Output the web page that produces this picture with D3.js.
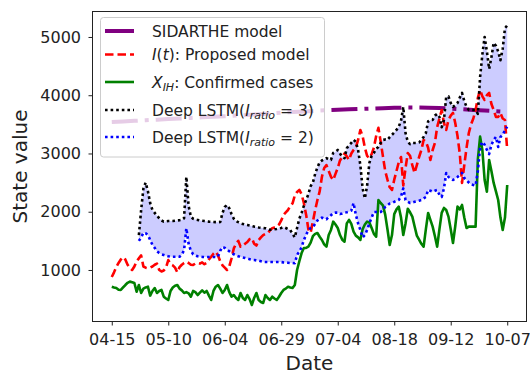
<!DOCTYPE html>
<html lang="en">
<head>
<meta charset="UTF-8">
<title>State value</title>
<script src="https://cdn.jsdelivr.net/npm/d3@7"></script>
<style>
  body { margin: 0; background: #fff; }
  svg { display: block; font-family: "DejaVu Sans", sans-serif; }
</style>
</head>
<body>
<svg id="chart" width="530" height="374"></svg>
<script>
// day index 0 = 04-15, one value per day
const tickDays = [0, 25, 50, 75, 100, 125, 150, 175];
const tickLabels = ["04-15", "05-10", "06-04", "06-29", "07-04", "08-18", "09-12", "10-07"];
const yTicks = [1000, 2000, 3000, 4000, 5000];

// X_IH: confirmed cases
const confirmed = [
  713, 700, 690, 660, 657, 700, 742, 780, 800, 790,
  777, 627, 742, 605, 680, 700, 713, 560, 640, 690,
  605, 640, 657, 542, 510, 485, 640, 700, 730, 742,
  680, 650, 605, 620, 600, 542, 640, 620, 570, 610,
  650, 610, 640, 560, 485, 640, 713, 742, 680, 605,
  657, 742, 620, 542, 570, 520, 485, 605, 520, 485,
  570, 500, 400, 520, 605, 485, 450, 433, 570, 520,
  485, 542, 510, 485, 540, 605, 657, 680, 713, 700,
  690, 742, 1000, 1150, 1290, 1378, 1380, 1400, 1470, 1580,
  1620, 1635, 1570, 1515, 1440, 1400, 1600, 1687, 1830, 1780,
  1721, 1600, 1520, 1486, 1800, 1859, 1790, 1658, 1590, 1560,
  1515, 1700, 1780, 1830, 1815, 1720, 1620, 1572, 2202, 2150,
  2110, 1950, 1700, 1429, 1600, 1960, 2040, 2087, 1900, 1600,
  1800, 2050, 1990, 1916, 1750, 1590, 1520, 1450, 1400, 1700,
  1979, 1859, 1744, 1580, 1400, 1700, 1980, 2065, 2030, 1916,
  1700, 1464, 1750, 2087, 2040, 2116, 1900, 1720, 1744, 1744,
  1744, 1744, 2900, 3289, 3060, 2545, 2344, 2889, 2700, 2494,
  2350, 2202, 1900, 1687, 1900, 2459
];

// I(t): proposed model
const proposed = [
  880, 960, 1050, 1120, 1180, 1220, 1180, 1090, 1040, 1000,
  1060, 1150, 1200, 1250, 1060, 1040, 1030, 1040, 1060, 1090,
  1110, 1000, 975, 990, 1040, 1170, 1100, 1080, 1040, 960,
  1050, 1090, 1120, 1140, 1120, 1090, 1086, 1110, 1120, 1110,
  1130, 1100, 1120, 1180, 1228, 1280, 1314, 1250, 1150, 1080,
  1040, 1000, 1060, 1200, 1370, 1450, 1500, 1400, 1420, 1450,
  1480, 1530, 1544, 1450, 1420, 1515, 1560, 1600, 1620, 1630,
  1680, 1716, 1730, 1744, 1780, 1850, 1944, 1990, 2030, 2100,
  2145, 2280, 2340, 2374, 2300, 2150, 1950, 1700, 1640, 1830,
  2030, 2200, 2350, 2600, 2750, 2800, 2700, 2600, 2545, 2650,
  2750, 2880, 2940, 3000, 2950, 2889, 3000, 3060, 3100, 3232,
  3404, 3300, 3100, 2960, 2920, 2990, 3100, 3300, 3440, 3200,
  2950, 2700, 2550, 2420, 2374, 2550, 2700, 2850, 2940, 2450,
  2750, 3009, 2960, 2800, 2665, 2800, 2940, 3060, 3232, 3200,
  3100, 2889, 3060, 3181, 3455, 3600, 3747, 3524, 3404, 3575,
  3650, 3696, 3524, 3300, 3000, 2494, 2800, 3100, 3352, 3500,
  3600, 3747, 3953, 4091, 3980, 3919, 4000, 4039, 3850, 3747,
  3627, 3627, 3696, 3600, 3575, 3060
];

// Deep LSTM runs start on day 12
const lstmStart = 12;
const lstm3 = [
  1600, 2030, 2400, 2500, 2350, 2145, 2030, 1980,
  1930, 1888, 1850, 1830, 1835, 1840, 1840, 1840, 1845, 1850,
  1855, 1860, 1890, 2600, 2100, 1916, 1880, 1865, 1859, 1850,
  1845, 1840, 1835, 1830, 1828, 1825, 1822, 1820, 1824, 1980,
  2080, 2116, 2060, 1960, 1880, 1840, 1820, 1800, 1790, 1780,
  1773, 1765, 1755, 1745, 1740, 1730, 1725, 1720, 1715, 1700,
  1690, 1690, 1700, 1705, 1715, 1721, 1735, 1721, 1700, 1687,
  1620, 1560, 1721, 1880, 1980, 2100, 2200, 2300, 2440, 2500,
  2650, 2760, 2850, 2880, 2900, 2920, 2900, 2889, 3009, 3030,
  3060, 3000, 2940, 2920, 3090, 3140, 3181, 3232, 3200, 3060,
  2800, 2400, 2230, 2450, 2837, 2960, 3009, 3080, 3112, 3180,
  3232, 3240, 3232, 3280, 3320, 3360, 3404, 3460, 3560, 3799,
  3350, 3200, 3160, 3181, 3181, 3181, 3190, 3230, 3284, 3350,
  3550, 3575, 3575, 3650, 3680, 3627, 3450, 3575, 3970, 3980,
  3867, 3800, 3830, 3867, 3960, 4039, 3900, 3800, 3747, 3750,
  3747, 3747, 3680, 4314, 4700, 5000, 4750, 4450, 4650, 4900,
  4850, 4750, 4600, 4800, 5150, 5200
];
const lstm2 = [
  1500, 1560, 1640, 1630, 1600, 1515, 1430, 1380,
  1320, 1290, 1270, 1258, 1245, 1235, 1228, 1228, 1228, 1228,
  1228, 1260, 1343, 1716, 1450, 1330, 1270, 1250, 1235, 1228,
  1225, 1223, 1223, 1223, 1223, 1223, 1223, 1230, 1330, 1395,
  1380, 1350, 1320, 1290, 1270, 1250, 1235, 1223, 1215, 1205,
  1195, 1185, 1175, 1172, 1165, 1160, 1150, 1140, 1137, 1137,
  1137, 1137, 1137, 1137, 1137, 1135, 1130, 1128, 1125, 1120,
  1120, 1115, 1258, 1320, 1390, 1515, 1600, 1687, 1720, 1738,
  1790, 1850, 1880, 1900, 1880, 1870, 1910, 1940, 1979, 1985,
  1985, 1960, 1970, 1985, 1990, 2000, 2020, 2150, 1950, 1800,
  1687, 1560, 1600, 1687, 1800, 1900, 1996, 1996, 1996, 1996,
  2030, 2082, 2110, 2140, 2150, 2170, 2190, 2202, 2260, 2400,
  2202, 2170, 2150, 2160, 2170, 2180, 2190, 2202, 2230, 2253,
  2374, 2360, 2345, 2360, 2374, 2290, 2253, 2400, 2665, 2597,
  2570, 2545, 2570, 2597, 2630, 2665, 2580, 2545, 2500, 2470,
  2459, 2450, 2700, 3112, 3200, 3150, 3060, 2990, 3150, 3230,
  3284, 3112, 3284, 3320, 3400, 3460
];

// SIDARTHE model, read every 5 days
const sidartheDays = d3.range(0, 176, 5);
const sidarthe = [
  3540, 3550, 3560, 3570, 3580, 3590, 3600, 3610, 3620, 3630,
  3640, 3650, 3662, 3675, 3688, 3700, 3712, 3722, 3732, 3742,
  3750, 3758, 3765, 3772, 3778, 3783, 3787, 3788, 3785, 3780,
  3770, 3760, 3748, 3737, 3726, 3715
];

const svg = d3.select("#chart");
const plot = { left: 92, right: 527, top: 11, bottom: 322 };

const x = d3.scaleLinear().domain([-8.75, 183.75]).range([plot.left, plot.right]);
const y = d3.scaleLinear().domain([107, 5446]).range([plot.bottom, plot.top]);

// band between the two LSTM runs
const band = d3.area()
  .x((d, i) => x(i + lstmStart))
  .y0((d, i) => y(lstm2[i]))
  .y1(d => y(d));
svg.append("path")
  .attr("d", band(lstm3))
  .attr("fill", "rgba(0,0,255,0.2)");

const daily = d3.line().x((d, i) => x(i)).y(d => y(d));
const lstmLine = d3.line().x((d, i) => x(i + lstmStart)).y(d => y(d));
const sidLine = d3.line().x((d, i) => x(sidartheDays[i])).y(d => y(d));

const series = [
  { d: sidLine(sidarthe), color: "purple", width: 4, dash: "26,7,4,7" },
  { d: daily(proposed), color: "red", width: 2.6, dash: "8.5,4" },
  { d: daily(confirmed), color: "green", width: 2.6, dash: null },
  { d: lstmLine(lstm3), color: "black", width: 2.6, dash: "2.6,3" },
  { d: lstmLine(lstm2), color: "blue", width: 2.6, dash: "2.6,3" }
];
series.forEach(s => {
  svg.append("path")
    .attr("d", s.d)
    .attr("fill", "none")
    .attr("stroke", s.color)
    .attr("stroke-width", s.width)
    .attr("stroke-dasharray", s.dash)
    .attr("stroke-linejoin", "round");
});

// axes
const xAxis = svg.append("g")
  .attr("transform", `translate(0,${plot.bottom})`)
  .call(d3.axisBottom(x).tickValues(tickDays).tickFormat((d, i) => tickLabels[i]).tickSize(3.5).tickPadding(8));
const yAxis = svg.append("g")
  .attr("transform", `translate(${plot.left},0)`)
  .call(d3.axisLeft(y).tickValues(yTicks).tickFormat(d3.format("d")).tickSize(3.5).tickPadding(7.5));
[xAxis, yAxis].forEach(g => {
  g.select(".domain").remove();
  g.selectAll("line").attr("stroke", "#222");
  g.selectAll("text")
    .attr("font-family", "DejaVu Sans")
    .attr("font-size", 16)
    .attr("fill", "#222");
});

svg.append("rect")
  .attr("x", plot.left + 0.5).attr("y", plot.top + 0.5)
  .attr("width", plot.right - plot.left - 1).attr("height", plot.bottom - plot.top - 1)
  .attr("fill", "none").attr("stroke", "#222").attr("stroke-width", 1);

svg.append("text")
  .attr("x", (plot.left + plot.right) / 2).attr("y", 370)
  .attr("text-anchor", "middle")
  .attr("font-size", 20).attr("fill", "#222")
  .text("Date");
svg.append("text")
  .attr("transform", `translate(27,${(plot.top + plot.bottom) / 2}) rotate(-90)`)
  .attr("text-anchor", "middle")
  .attr("font-size", 20).attr("fill", "#222")
  .text("State value");

// legend
const legend = svg.append("g");
legend.append("rect")
  .attr("x", 100.5).attr("y", 17.5).attr("width", 224).attr("height", 139.5)
  .attr("rx", 3)
  .attr("fill", "rgba(255,255,255,0.8)")
  .attr("stroke", "#cccccc");

const rows = [31, 54.5, 82, 110, 137];
const handles = [
  { color: "purple", width: 4, dash: null },
  { color: "red", width: 2.6, dash: "8.5,4" },
  { color: "green", width: 2.6, dash: null },
  { color: "black", width: 2.6, dash: "2.6,3" },
  { color: "blue", width: 2.6, dash: "2.6,3" }
];
handles.forEach((h, i) => {
  legend.append("line")
    .attr("x1", 105).attr("x2", 134)
    .attr("y1", rows[i]).attr("y2", rows[i])
    .attr("stroke", h.color).attr("stroke-width", h.width)
    .attr("stroke-dasharray", h.dash);
});

const label = i => legend.append("text")
  .attr("x", 152).attr("y", rows[i] + 5.5)
  .attr("font-size", 15.5).attr("fill", "#222");

label(0).text("SIDARTHE model");

let t = label(1);
t.append("tspan").attr("font-style", "italic").text("I");
t.append("tspan").text("(");
t.append("tspan").attr("font-style", "italic").text("t");
t.append("tspan").text("): Proposed model");

t = label(2);
t.append("tspan").attr("font-style", "italic").text("X");
t.append("tspan").attr("font-style", "italic").attr("font-size", 11).attr("dy", 3.5).text("IH");
t.append("tspan").attr("dy", -3.5).text(": Confirmed cases");

[3, 2].forEach((v, k) => {
  const s = label(3 + k);
  s.append("tspan").text("Deep LSTM(");
  s.append("tspan").attr("font-style", "italic").text("I");
  s.append("tspan").attr("font-style", "italic").attr("font-size", 11).attr("dy", 3.5).text("ratio");
  s.append("tspan").attr("dy", -3.5).text(` = ${v})`);
});
</script>
</body>
</html>
